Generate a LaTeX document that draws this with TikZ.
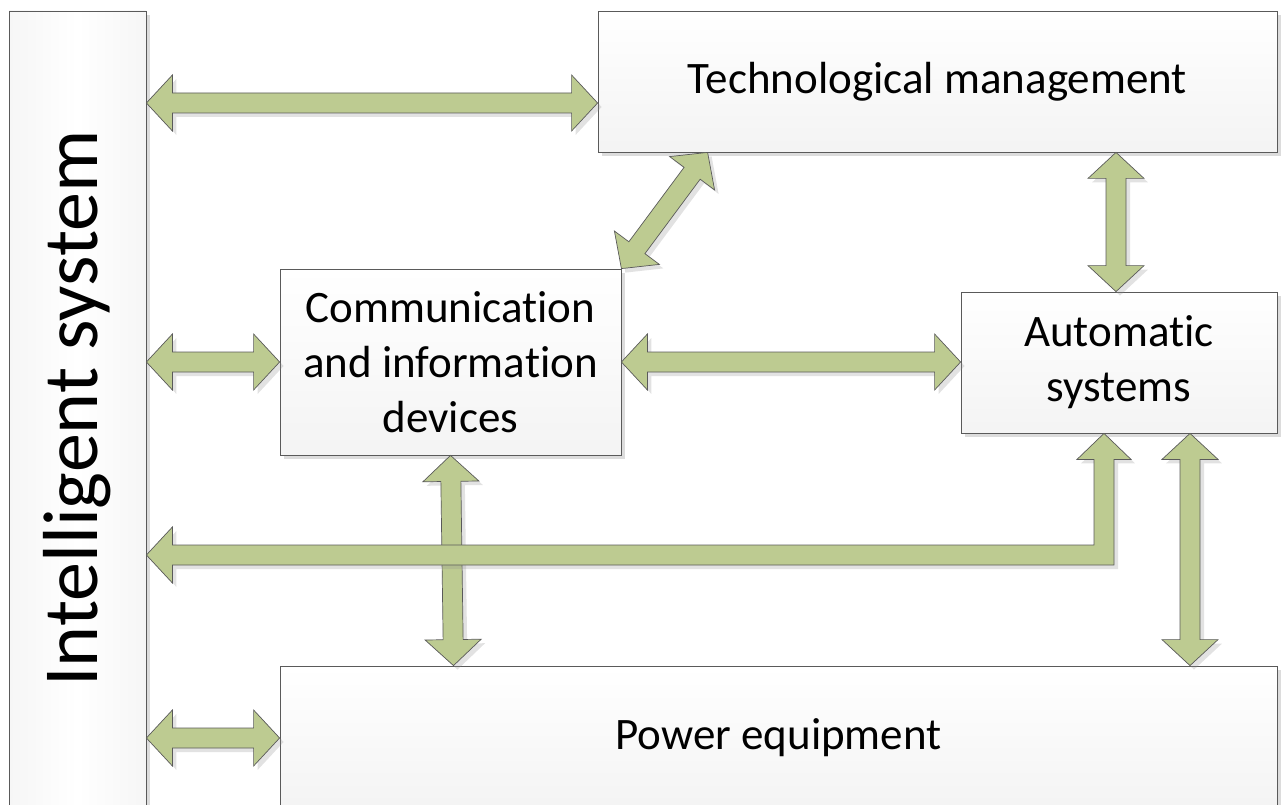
\documentclass[tikz,border=0pt]{standalone}
\usepackage{fontspec}
\setmainfont{Carlito}[Ligatures={NoCommon}]
\usepackage{tikz}
\usetikzlibrary{calc,shadows}

\definecolor{arrowgreen}{RGB}{189,203,145}
\definecolor{edgegray}{RGB}{90,90,90}

\tikzset{
  box/.style={draw=edgegray, line width=0.8pt, top color=white, bottom color=gray!9,
    drop shadow={shadow xshift=4pt, shadow yshift=-4pt, fill=black!45, opacity=0.3},
    inner sep=0pt, align=center, font=\fontsize{45}{55}\selectfont},
  blockarrow/.style={draw=edgegray, line width=0.7pt, fill=arrowgreen, line join=miter,
    drop shadow={shadow xshift=4pt, shadow yshift=-4pt, fill=black!45, opacity=0.25}}
}

% double block arrow from #1 to #2
\newcommand{\dblarrow}[2]{%
  \draw[blockarrow] (#1)
    -- ($($(#1)!26pt!(#2)$)!28pt!90:(#2)$)
    -- ($($(#1)!26pt!(#2)$)!10pt!90:(#2)$)
    -- ($($(#2)!26pt!(#1)$)!10pt!-90:(#1)$)
    -- ($($(#2)!26pt!(#1)$)!28pt!-90:(#1)$)
    -- (#2)
    -- ($($(#2)!26pt!(#1)$)!28pt!90:(#1)$)
    -- ($($(#2)!26pt!(#1)$)!10pt!90:(#1)$)
    -- ($($(#1)!26pt!(#2)$)!10pt!-90:(#2)$)
    -- ($($(#1)!26pt!(#2)$)!28pt!-90:(#2)$)
    -- cycle;
}

\begin{document}
\begin{tikzpicture}[x=1pt, y=-1pt]
    \clip (0,0) rectangle (1282,805);

    % Intelligent system bar on the left
    \node[box, left color=gray!7, right color=gray!7, middle color=white,
      minimum width=137pt, minimum height=795pt] (bar) at (77.5,408.5)
      {\rotatebox{90}{\fontsize{78}{78}\selectfont Intelligent system}};

    % Blocks
    \node[box, minimum width=679pt, minimum height=141pt] (tech) at (937.5,81.5) {Technological management};
    \node[box, minimum width=341pt, minimum height=186pt] (comm) at (450.5,362) {Communication\\and information\\devices};
    \node[box, minimum width=316pt, minimum height=141pt] (auto) at (1119,362.5) {Automatic\\systems};
    \node[box, minimum width=997pt, minimum height=144pt] (power) at (778.5,738) {Power equipment};

    % Arrow end points
    \coordinate (techleft) at ($(tech.west)+(0,21.5)$);
    \coordinate (techdown) at ($(tech.south west)+(110,0)$);
    \coordinate (autoup) at ($(auto.north)+(-3,0)$);
    \coordinate (commdown) at ($(comm.south |- power.north)+(3,0)$);
    \coordinate (autodown) at ($(auto.south)+(71,0)$);
    \coordinate (elbowtop) at ($(auto.south)+(-15,0)$);
    \coordinate (elbowleft) at (bar.east |- 0,555);

    % Double arrows
    \dblarrow{bar.east |- techleft}{techleft}
    \dblarrow{bar.east |- comm.west}{comm.west}
    \dblarrow{bar.east |- power.west}{power.west}
    \dblarrow{comm.east}{auto.west |- comm.east}
    \dblarrow{autoup |- tech.south}{autoup}
    \dblarrow{techdown}{comm.north east}
    \dblarrow{comm.south}{commdown}
    \dblarrow{autodown}{autodown |- power.north}

    % Elbow arrow from Automatic systems to the bar
    \draw[blockarrow] (elbowtop)
      -- ($(elbowtop)+(27,26)$)
      -- ($(elbowtop)+(10,26)$)
      -- ($(elbowtop |- elbowleft)+(10,10)$)
      -- ($(elbowleft)+(26,10)$)
      -- ($(elbowleft)+(26,28)$)
      -- (elbowleft)
      -- ($(elbowleft)+(26,-28)$)
      -- ($(elbowleft)+(26,-10)$)
      -- ($(elbowtop |- elbowleft)+(-10,-10)$)
      -- ($(elbowtop)+(-10,26)$)
      -- ($(elbowtop)+(-27,26)$)
      -- cycle;
\end{tikzpicture}
\end{document}
